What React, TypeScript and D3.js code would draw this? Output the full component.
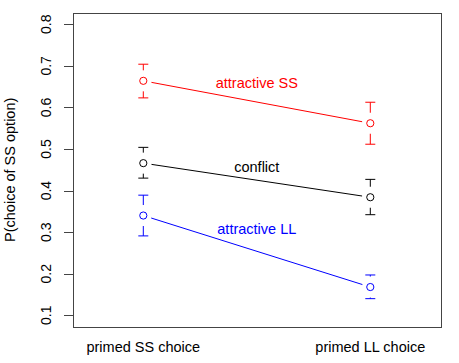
import * as d3 from 'd3';

const conditions = ['primed SS choice', 'primed LL choice'];
const yTicks = [0.1, 0.2, 0.3, 0.4, 0.5, 0.6, 0.7, 0.8];

const seriesNames = ['attractive SS', 'conflict', 'attractive LL'];
const seriesColors = ['#ff0000', '#000000', '#0000ff'];

const ssMean = [0.664, 0.562];
const ssLower = [0.623, 0.5115];
const ssUpper = [0.704, 0.6125];

const conflictMean = [0.466, 0.384];
const conflictLower = [0.430, 0.342];
const conflictUpper = [0.504, 0.427];

const llMean = [0.340, 0.168];
const llLower = [0.291, 0.140];
const llUpper = [0.389, 0.197];

const labelY = [0.66, 0.458, 0.308];

const width = 459;
const height = 363;

export default function App() {
  const series = [
    { mean: ssMean, lower: ssLower, upper: ssUpper },
    { mean: conflictMean, lower: conflictLower, upper: conflictUpper },
    { mean: llMean, lower: llLower, upper: llUpper },
  ].map((s, i) => ({ ...s, name: seriesNames[i], color: seriesColors[i] }));

  // R-style axes: x at 1..2, ylim 0.1..0.8 with 4% expansion
  const x = d3.scaleLinear().domain([1, 2]).range([143.3, 370.3]);
  const y = d3.scaleLinear().domain([0.1, 0.8]).range([315.3, 24.3]);
  const left = x(0.69);
  const right = x(2.31);
  const top = y(0.828);
  const bottom = y(0.072);

  const gapLine = 8.3;
  const gapBar = 10.5;
  const cap = 5;
  const font = 'Liberation Sans, Arial, Helvetica, sans-serif';

  return (
    <svg
      width={width}
      height={height}
      style={{ position: 'absolute', left: 0, top: 0, background: '#fff' }}
      fontFamily={font}
    >
      <rect
        x={Math.round(left) + 0.5}
        y={Math.round(top) + 0.5}
        width={Math.round(right) - Math.round(left)}
        height={Math.round(bottom) - Math.round(top)}
        fill="none"
        stroke="#444"
        strokeWidth={1}
      />

      {yTicks.map((t) => (
        <g key={t}>
          <line
            x1={Math.round(left) - 9}
            x2={Math.round(left)}
            y1={Math.round(y(t)) + 0.5}
            y2={Math.round(y(t)) + 0.5}
            stroke="#444"
          />
          <text
            transform={`translate(51,${y(t)}) rotate(-90)`}
            textAnchor="middle"
            fontSize={14}
            fill="#000"
          >
            {t.toFixed(1)}
          </text>
        </g>
      ))}

      {conditions.map((c, i) => (
        <text key={c} x={x(i + 1)} y={352} textAnchor="middle" fontSize={14.5} fill="#000">
          {c}
        </text>
      ))}

      <text
        transform={`translate(15,${(top + bottom) / 2}) rotate(-90)`}
        textAnchor="middle"
        fontSize={14.5}
        fill="#000"
      >
        P(choice of SS option)
      </text>

      {series.map((s, si) => {
        const p = s.mean.map((m, i) => [x(i + 1), y(m)] as [number, number]);
        const dx = p[1][0] - p[0][0];
        const dy = p[1][1] - p[0][1];
        const len = Math.hypot(dx, dy);
        const ux = dx / len;
        const uy = dy / len;
        return (
          <g key={s.name}>
            <line
              x1={p[0][0] + ux * gapLine}
              y1={p[0][1] + uy * gapLine}
              x2={p[1][0] - ux * gapLine}
              y2={p[1][1] - uy * gapLine}
              stroke={s.color}
              strokeWidth={1}
            />
            {s.mean.map((m, i) => {
              const cx = x(i + 1);
              const cy = y(m);
              const yu = y(s.upper[i]);
              const yl = y(s.lower[i]);
              return (
                <g key={i} stroke={s.color} fill="none" strokeWidth={1}>
                  <circle cx={cx} cy={cy} r={3.6} />
                  {cy - yu > gapBar && <line x1={cx} x2={cx} y1={yu} y2={cy - gapBar} />}
                  {yl - cy > gapBar && <line x1={cx} x2={cx} y1={cy + gapBar} y2={yl} />}
                  <line x1={cx - cap} x2={cx + cap} y1={yu} y2={yu} />
                  <line x1={cx - cap} x2={cx + cap} y1={yl} y2={yl} />
                </g>
              );
            })}
            <text
              x={x(1.5)}
              y={y(labelY[si])}
              dy="0.35em"
              textAnchor="middle"
              fontSize={14.5}
              fill={s.color}
            >
              {s.name}
            </text>
          </g>
        );
      })}
    </svg>
  );
}
